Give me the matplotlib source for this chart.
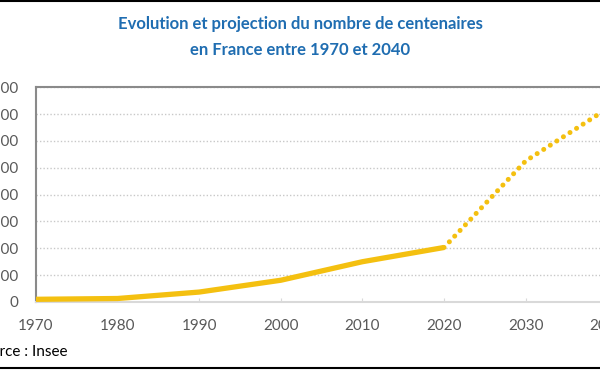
"""Evolution et projection du nombre de centenaires en France (Insee)."""
import matplotlib.pyplot as plt
from matplotlib.lines import Line2D

TITLE_BLUE = "#1f6db1"
GOLD = "#f4c010"
GRID = "#c8c8c8"
TICK_INK = "#595959"

YEARS_OBS = [1970, 1980, 1990, 2000, 2010, 2020]
CENT_OBS = [1000, 1300, 3700, 8100, 15000, 20300]
YEARS_PROJ = [2020, 2030, 2040]
CENT_PROJ = [20300, 52500, 72000]
YTICKS = [0, 10000, 20000, 30000, 40000, 50000, 60000, 70000, 80000]
XTICKS = [1970, 1980, 1990, 2000, 2010, 2020, 2030, 2040]


def main():
    plt.rcParams["font.family"] = ["Lato", "DejaVu Sans"]
    fig = plt.figure(figsize=(6, 3.71), dpi=100, facecolor="white")
    ax = fig.add_axes([0.06, 0.186, 0.952, 0.579])

    ax.plot(YEARS_OBS, CENT_OBS, color=GOLD, lw=3.8, solid_capstyle="butt",
            solid_joinstyle="round", zorder=3)
    ax.plot(YEARS_PROJ, CENT_PROJ, color=GOLD, lw=3.6, dashes=(0.01, 1.55),
            dash_capstyle="round", zorder=3)

    ax.set_xlim(1970, 2040)
    ax.set_ylim(0, 80000)
    ax.set_yticks(YTICKS)
    ax.set_yticklabels([f"{v:,}".replace(",", " ") for v in YTICKS])
    ax.set_xticks(XTICKS)
    ax.set_xticklabels([str(y) for y in XTICKS])
    ax.grid(True, axis="y", color=GRID, lw=1, linestyle=(0, (1, 1.5)), zorder=0)

    for side in ("left", "top"):
        ax.spines[side].set_color("#8a8a8a")
        ax.spines[side].set_linewidth(1.5)
    ax.spines["bottom"].set_color("#d9d9d9")
    ax.spines["bottom"].set_linewidth(1.5)
    ax.spines["right"].set_visible(False)

    ax.tick_params(axis="y", length=0, pad=13, labelsize=11, labelcolor=TICK_INK)
    ax.tick_params(axis="x", direction="in", length=3, color="#d9d9d9",
                   pad=12, labelsize=11, labelcolor=TICK_INK)

    fig.text(0.5, 0.936, "Evolution et projection du nombre de centenaires",
             ha="center", va="center", fontsize=12, fontweight="bold", color=TITLE_BLUE)
    fig.text(0.5, 0.864, "en France entre 1970 et 2040",
             ha="center", va="center", fontsize=12, fontweight="bold", color=TITLE_BLUE)
    fig.text(0.113, 0.05, "Source : Insee", ha="right", va="center",
             fontsize=11, color="black")

    fig.add_artist(Line2D([0, 1], [0.998, 0.998], color="black", lw=1.5,
                          transform=fig.transFigure))
    fig.add_artist(Line2D([0, 1], [0.008, 0.008], color="black", lw=1.5,
                          transform=fig.transFigure))

    fig.savefig("out.png", dpi=100, facecolor="white")
    plt.close(fig)


if __name__ == "__main__":
    main()
